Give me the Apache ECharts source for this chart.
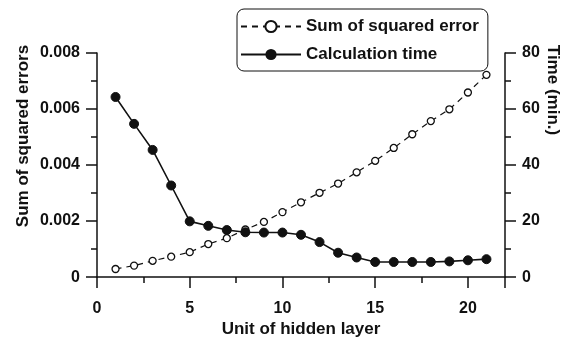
<!DOCTYPE html>
<html><head><meta charset="utf-8">
<script src="https://cdn.jsdelivr.net/npm/echarts@6/dist/echarts.min.js"></script>
<style>html,body{margin:0;padding:0;background:#fff}#c{width:574px;height:343px}</style>
</head><body><div id="c"></div>
<script>
var units = [1,2,3,4,5,6,7,8,9,10,11,12,13,14,15,16,17,18,19,20,21];
var sse = [0.00029,0.00041,0.00058,0.00073,0.00089,0.00118,0.00139,0.0017,0.00197,0.00232,0.00267,0.00301,0.00334,0.00374,0.00415,0.00461,0.0051,0.00557,0.00599,0.00659,0.00722];
var calcTime = [64.3,54.7,45.4,32.7,19.9,18.3,16.8,16.0,15.9,15.9,15.1,12.5,8.7,7.0,5.4,5.4,5.4,5.4,5.6,6.0,6.4];
var leftTicks = ['0','0.002','0.004','0.006','0.008'];

var font = 'Liberation Sans, Arial, sans-serif';
var ink = '#111';
var chart = echarts.init(document.getElementById('c'));
function pairs(ys){ return units.map(function(u,i){return [u, ys[i]];}); }
var tickStyle = {color: ink, width: 1.5};
chart.setOption({
  animation: false,
  backgroundColor: '#fff',
  grid: {left: 97, right: 69, top: 53, bottom: 60},
  legend: {
    orient: 'vertical', left: 237, top: 9,
    padding: [9, 9, 8, 3], itemGap: 11, itemWidth: 60, itemHeight: 14,
    borderColor: ink, borderWidth: 1, borderRadius: 7,
    textStyle: {fontFamily: font, fontWeight: 'bold', fontSize: 17, color: ink},
    data: ['Sum of squared error', 'Calculation time']
  },
  xAxis: {
    type: 'value', min: 0, max: 22, interval: 5,
    name: 'Unit of hidden layer', nameLocation: 'middle', nameGap: 42,
    nameTextStyle: {fontFamily: font, fontWeight: 'bold', fontSize: 17, color: ink},
    axisLine: {lineStyle: tickStyle},
    axisTick: {length: 11, lineStyle: tickStyle},
    minorTick: {show: true, splitNumber: 2, length: 6, lineStyle: tickStyle},
    axisLabel: {showMaxLabel: false, margin: 23, fontFamily: font, fontWeight: 'bold', fontSize: 16, color: ink},
    splitLine: {show: false}
  },
  yAxis: [{
    type: 'value', min: 0, max: 0.008, interval: 0.002,
    axisLine: {show: true, lineStyle: tickStyle},
    axisTick: {show: true, length: 11, lineStyle: tickStyle},
    minorTick: {show: true, splitNumber: 2, length: 6, lineStyle: tickStyle},
    axisLabel: {margin: 17, fontFamily: font, fontWeight: 'bold', fontSize: 16, color: ink,
      formatter: function(v){ return leftTicks[Math.round(v/0.002)]; }},
    splitLine: {show: false}
  }, {
    type: 'value', min: 0, max: 80, interval: 20, position: 'right',
    axisLine: {show: true, lineStyle: tickStyle},
    axisTick: {show: true, length: 11, lineStyle: tickStyle},
    minorTick: {show: true, splitNumber: 2, length: 6, lineStyle: tickStyle},
    axisLabel: {margin: 17, fontFamily: font, fontWeight: 'bold', fontSize: 16, color: ink},
    splitLine: {show: false}
  }],
  graphic: [{
    type: 'text', x: 23, y: 136, rotation: Math.PI/2,
    style: {text: 'Sum of squared errors', align: 'center', verticalAlign: 'middle',
      fontFamily: font, fontWeight: 'bold', fontSize: 17, fill: ink}
  }, {
    type: 'text', x: 553, y: 90, rotation: -Math.PI/2,
    style: {text: 'Time (min.)', align: 'center', verticalAlign: 'middle',
      fontFamily: font, fontWeight: 'bold', fontSize: 17, fill: ink}
  }],
  series: [{
    name: 'Sum of squared error', type: 'line', yAxisIndex: 0,
    data: pairs(sse), symbol: 'circle', symbolSize: 7,
    lineStyle: {color: ink, width: 1.2, type: [6, 5]},
    itemStyle: {color: '#fff', borderColor: ink, borderWidth: 1.3}
  }, {
    name: 'Calculation time', type: 'line', yAxisIndex: 1,
    data: pairs(calcTime), symbol: 'circle', symbolSize: 9,
    lineStyle: {color: ink, width: 1.6},
    itemStyle: {color: ink, borderColor: ink}
  }]
});
</script></body></html>
